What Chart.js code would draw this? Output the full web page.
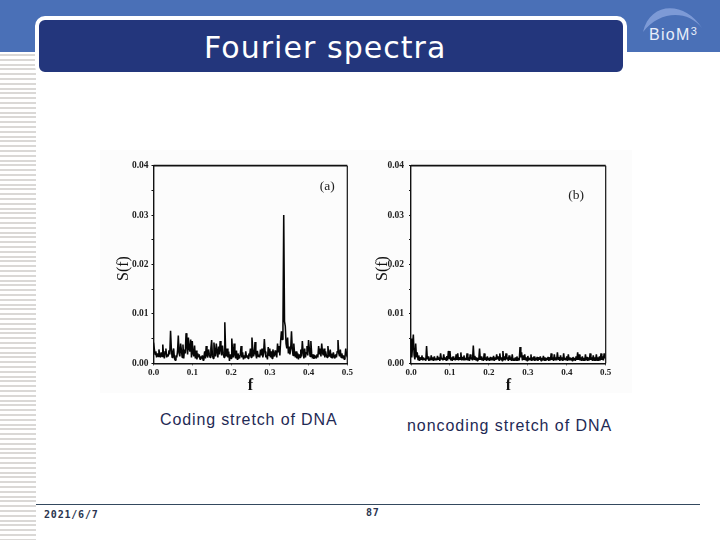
<!DOCTYPE html>
<html>
<head>
<meta charset="utf-8">
<script src="https://cdn.jsdelivr.net/npm/chart.js@4"></script>
<style>
  html, body { margin: 0; padding: 0; background: #fff; }
  #page { position: relative; width: 720px; height: 540px; overflow: hidden; font-family: "Liberation Sans", sans-serif; }
  #band { position: absolute; left: 0; top: 0; width: 720px; height: 52px; background: #4a70b7; }
  #stripes { position: absolute; left: 0; top: 54px; width: 36px; height: 486px;
    background: repeating-linear-gradient(to bottom, #dad8d6 0, #dad8d6 2px, #ffffff 2px, #ffffff 4.8px); }
  #titlebox { position: absolute; left: 35px; top: 16px; width: 584px; height: 52px; background: #23367c;
    border: 4px solid #fff; border-radius: 10px; }
  #title { position: absolute; left: 204px; top: 30px; color: #fff; font-family: "DejaVu Sans", sans-serif; font-size: 30px; line-height: 36px; letter-spacing: 1.05px; white-space: nowrap; }
  #logo { position: absolute; left: 640px; top: 4px; }
  #scan { position: absolute; left: 100px; top: 150px; width: 532px; height: 243px; background: #fcfcfc; }
  .panel { position: absolute; top: 150px; width: 265px; height: 245px; filter: blur(0.4px); }
  .panel canvas { display: block; }
  .cap { position: absolute; font-size: 16px; line-height: 20px; color: #1f2a55; white-space: nowrap; letter-spacing: 0.87px; }
  #rule { position: absolute; left: 36px; top: 504px; width: 664px; height: 1px; background: #34495e; }
  .foot { position: absolute; font-family: "DejaVu Sans Mono", monospace; font-weight: bold; font-size: 10px; letter-spacing: 0.8px; color: #2a3550; line-height: 12px; }
</style>
</head>
<body>
<div id="page">
  <div id="band"></div>
  <div id="stripes"></div>
  <div id="titlebox"></div>
  <div id="title">Fourier spectra</div>
  <svg id="logo" width="76" height="44">
    <path d="M 3 28 C 10 -3, 45 -3, 62 24 C 48 6, 20 6, 3 28 Z" fill="#7d9ad6"/>
    <text x="9" y="36" font-family="Liberation Sans" font-size="16" letter-spacing="1.3" fill="#e8eefa">BioM<tspan font-size="11" dy="-5">3</tspan></text>
  </svg>
  <div id="scan"></div>
  <div class="panel" style="left:100px"><canvas id="chartA" width="265" height="245"></canvas></div>
  <div class="panel" style="left:365px"><canvas id="chartB" width="265" height="245"></canvas></div>
  <div class="cap" style="left:160px; top:410px">Coding stretch of DNA</div>
  <div class="cap" style="left:407px; top:416px; letter-spacing:0.95px">noncoding stretch of DNA</div>
  <div id="rule"></div>
  <div class="foot" style="left:44px; top:509px">2021/6/7</div>
  <div class="foot" style="left:366px; top:507px">87</div>
</div>
<script>
const freqs = [
  0.000,0.002,0.004,0.006,0.008,0.010,0.012,0.014,0.016,0.018,0.020,0.022,0.024,0.026,0.028,0.030,
  0.032,0.034,0.036,0.038,0.040,0.042,0.044,0.046,0.048,0.050,0.052,0.054,0.056,0.058,0.060,0.062,
  0.064,0.066,0.068,0.070,0.072,0.074,0.076,0.078,0.080,0.082,0.084,0.086,0.088,0.090,0.092,0.094,
  0.096,0.098,0.100,0.102,0.104,0.106,0.108,0.110,0.112,0.114,0.116,0.118,0.120,0.122,0.124,0.126,
  0.128,0.130,0.132,0.134,0.136,0.138,0.140,0.142,0.144,0.146,0.148,0.150,0.152,0.154,0.156,0.158,
  0.160,0.162,0.164,0.166,0.168,0.170,0.172,0.174,0.176,0.178,0.180,0.182,0.184,0.186,0.188,0.190,
  0.192,0.194,0.196,0.198,0.200,0.202,0.204,0.206,0.208,0.210,0.212,0.214,0.216,0.218,0.220,0.222,
  0.224,0.226,0.228,0.230,0.232,0.234,0.236,0.238,0.240,0.242,0.244,0.246,0.248,0.250,0.252,0.254,
  0.256,0.258,0.260,0.262,0.264,0.266,0.268,0.270,0.272,0.274,0.276,0.278,0.280,0.282,0.284,0.286,
  0.288,0.290,0.292,0.294,0.296,0.298,0.300,0.302,0.304,0.306,0.308,0.310,0.312,0.314,0.316,0.318,
  0.320,0.322,0.324,0.326,0.328,0.330,0.332,0.334,0.336,0.338,0.340,0.342,0.344,0.346,0.348,0.350,
  0.352,0.354,0.356,0.358,0.360,0.362,0.364,0.366,0.368,0.370,0.372,0.374,0.376,0.378,0.380,0.382,
  0.384,0.386,0.388,0.390,0.392,0.394,0.396,0.398,0.400,0.402,0.404,0.406,0.408,0.410,0.412,0.414,
  0.416,0.418,0.420,0.422,0.424,0.426,0.428,0.430,0.432,0.434,0.436,0.438,0.440,0.442,0.444,0.446,
  0.448,0.450,0.452,0.454,0.456,0.458,0.460,0.462,0.464,0.466,0.468,0.470,0.472,0.474,0.476,0.478,
  0.480,0.482,0.484,0.486,0.488,0.490,0.492,0.494,0.496,0.498,0.500
];

// panel (a), coding stretch
const codingS = [
  0.0042,0.0030,0.0018,0.0024,0.0012,0.0020,0.0014,0.0028,0.0016,0.0012,0.0022,0.0014,0.0038,0.0016,0.0010,0.0024,
  0.0030,0.0012,0.0018,0.0014,0.0026,0.0018,0.0066,0.0030,0.0012,0.0022,0.0030,0.0010,0.0006,0.0016,0.0012,0.0024,
  0.0056,0.0020,0.0014,0.0040,0.0026,0.0012,0.0038,0.0010,0.0028,0.0020,0.0061,0.0035,0.0018,0.0052,0.0030,0.0024,
  0.0048,0.0012,0.0045,0.0020,0.0014,0.0036,0.0010,0.0026,0.0008,0.0020,0.0012,0.0018,0.0008,0.0014,0.0010,0.0016,
  0.0006,0.0012,0.0024,0.0010,0.0035,0.0016,0.0012,0.0028,0.0018,0.0012,0.0030,0.0047,0.0016,0.0010,0.0042,0.0022,
  0.0014,0.0040,0.0024,0.0012,0.0034,0.0018,0.0045,0.0028,0.0016,0.0036,0.0020,0.0012,0.0083,0.0028,0.0014,0.0030,
  0.0012,0.0024,0.0005,0.0018,0.0010,0.0050,0.0024,0.0012,0.0040,0.0018,0.0010,0.0026,0.0008,0.0020,0.0014,0.0010,
  0.0018,0.0035,0.0012,0.0022,0.0008,0.0016,0.0010,0.0024,0.0012,0.0016,0.0010,0.0020,0.0014,0.0030,0.0012,0.0052,
  0.0030,0.0014,0.0020,0.0043,0.0018,0.0010,0.0025,0.0014,0.0018,0.0012,0.0028,0.0016,0.0030,0.0012,0.0020,0.0049,
  0.0024,0.0012,0.0016,0.0008,0.0033,0.0016,0.0030,0.0012,0.0024,0.0010,0.0028,0.0018,0.0014,0.0026,0.0020,0.0012,
  0.0040,0.0022,0.0035,0.0016,0.0045,0.0065,0.0048,0.0075,0.0300,0.0085,0.0075,0.0040,0.0030,0.0052,0.0020,0.0034,
  0.0018,0.0030,0.0065,0.0030,0.0016,0.0040,0.0020,0.0012,0.0024,0.0010,0.0020,0.0008,0.0018,0.0012,0.0028,0.0014,
  0.0045,0.0024,0.0010,0.0030,0.0012,0.0022,0.0035,0.0016,0.0047,0.0030,0.0014,0.0045,0.0020,0.0010,0.0018,0.0009,
  0.0016,0.0012,0.0010,0.0018,0.0012,0.0035,0.0018,0.0030,0.0014,0.0040,0.0022,0.0016,0.0030,0.0012,0.0024,0.0016,
  0.0012,0.0035,0.0018,0.0014,0.0028,0.0012,0.0020,0.0010,0.0022,0.0014,0.0010,0.0018,0.0012,0.0024,0.0047,0.0020,
  0.0014,0.0028,0.0012,0.0020,0.0010,0.0016,0.0008,0.0012,0.0030,0.0018,0.0012
];

// panel (b), noncoding stretch
const noncodingS = [
  0.0050,0.0012,0.0035,0.0058,0.0016,0.0008,0.0040,0.0012,0.0022,0.0007,0.0016,0.0005,0.0012,0.0008,0.0016,0.0006,
  0.0012,0.0007,0.0010,0.0005,0.0035,0.0008,0.0014,0.0005,0.0010,0.0006,0.0016,0.0007,0.0012,0.0005,0.0014,0.0007,
  0.0010,0.0006,0.0015,0.0007,0.0012,0.0005,0.0020,0.0008,0.0011,0.0006,0.0018,0.0007,0.0012,0.0006,0.0015,0.0006,
  0.0025,0.0010,0.0025,0.0006,0.0012,0.0005,0.0014,0.0007,0.0010,0.0006,0.0018,0.0007,0.0020,0.0006,0.0012,0.0008,
  0.0022,0.0006,0.0013,0.0007,0.0016,0.0006,0.0011,0.0007,0.0020,0.0006,0.0012,0.0005,0.0018,0.0008,0.0012,0.0006,
  0.0036,0.0008,0.0015,0.0006,0.0012,0.0005,0.0011,0.0007,0.0030,0.0007,0.0014,0.0006,0.0011,0.0005,0.0020,0.0007,
  0.0012,0.0005,0.0014,0.0007,0.0011,0.0005,0.0013,0.0007,0.0012,0.0006,0.0015,0.0005,0.0012,0.0007,0.0018,0.0008,
  0.0014,0.0006,0.0020,0.0008,0.0012,0.0005,0.0025,0.0007,0.0014,0.0006,0.0020,0.0008,0.0012,0.0005,0.0016,0.0007,
  0.0012,0.0005,0.0018,0.0006,0.0010,0.0005,0.0012,0.0006,0.0014,0.0005,0.0011,0.0006,0.0033,0.0012,0.0022,0.0006,
  0.0016,0.0007,0.0018,0.0006,0.0012,0.0005,0.0015,0.0006,0.0011,0.0007,0.0018,0.0005,0.0012,0.0006,0.0014,0.0005,
  0.0011,0.0006,0.0013,0.0005,0.0012,0.0007,0.0014,0.0005,0.0011,0.0006,0.0015,0.0006,0.0012,0.0005,0.0011,0.0007,
  0.0013,0.0005,0.0012,0.0006,0.0020,0.0007,0.0012,0.0005,0.0018,0.0007,0.0012,0.0006,0.0022,0.0008,0.0013,0.0005,
  0.0016,0.0006,0.0012,0.0005,0.0020,0.0007,0.0011,0.0006,0.0014,0.0005,0.0018,0.0007,0.0012,0.0006,0.0011,0.0005,
  0.0013,0.0006,0.0011,0.0005,0.0014,0.0007,0.0022,0.0007,0.0018,0.0006,0.0012,0.0005,0.0014,0.0006,0.0011,0.0005,
  0.0018,0.0006,0.0013,0.0005,0.0011,0.0006,0.0020,0.0007,0.0012,0.0005,0.0016,0.0006,0.0012,0.0005,0.0018,0.0006,
  0.0012,0.0005,0.0014,0.0006,0.0020,0.0007,0.0014,0.0006,0.0020,0.0010,0.0012
];

const yTicks = [0, 0.01, 0.02, 0.03, 0.04];
const xTicks = [0, 0.1, 0.2, 0.3, 0.4, 0.5];

const serif = '"Liberation Serif", serif';

// frame on the top and right, and the (a)/(b) tag
const framePlugin = {
  id: 'frame',
  afterDraw(chart, args, opts) {
    const { ctx, chartArea: a, scales } = chart;
    ctx.save();
    ctx.strokeStyle = '#111';
    ctx.lineWidth = 1.8;
    ctx.beginPath();
    ctx.moveTo(a.left, a.top);
    ctx.lineTo(a.right, a.top);
    ctx.stroke();
    ctx.lineWidth = 1.2;
    ctx.beginPath();
    ctx.moveTo(a.right, a.top);
    ctx.lineTo(a.right, a.bottom);
    ctx.stroke();
    ctx.fillStyle = '#222';
    ctx.font = '13.5px ' + serif;
    ctx.textAlign = 'center';
    ctx.textBaseline = 'middle';
    ctx.fillText(opts.tag, scales.x.getPixelForValue(opts.tagF), scales.y.getPixelForValue(opts.tagS));
    ctx.restore();
  }
};

function spectrum(id, values, cfg) {
  return new Chart(document.getElementById(id), {
    type: 'line',
    data: {
      datasets: [{
        data: freqs.map((f, i) => ({ x: f, y: values[i] })),
        borderColor: '#050505',
        borderWidth: 1.55,
        borderJoinStyle: 'bevel',
        pointRadius: 0,
        tension: 0
      }]
    },
    options: {
      responsive: false,
      animation: false,
      devicePixelRatio: 1,
      layout: { padding: { top: 15.7, right: cfg.right, left: 0, bottom: 0 } },
      plugins: {
        legend: { display: false },
        tooltip: { enabled: false },
        frame: { tag: cfg.tag, tagF: cfg.tagF, tagS: cfg.tagS }
      },
      scales: {
        x: {
          type: 'linear', min: 0, max: 0.5,
          afterFit: s => { s.height = 31.7; },
          afterBuildTicks: s => { s.ticks = xTicks.map(v => ({ value: v })); },
          border: { color: '#111', width: 1.4 },
          grid: { drawOnChartArea: false, tickLength: 2, color: '#111' },
          ticks: {
            autoSkip: false, maxRotation: 0, padding: 2, color: '#222',
            font: { family: serif, size: 9, weight: 'bold' },
            callback: v => v.toFixed(1)
          },
          title: { display: true, text: 'f', color: '#111', padding: { top: -1, bottom: 0 },
            font: { family: serif, size: 16, weight: 'bold' } }
        },
        y: {
          min: 0, max: 0.04,
          afterFit: s => { s.width = cfg.axis; },
          ticks: {
            stepSize: 0.005, autoSkip: false, padding: cfg.tickPad, color: '#222',
            font: { family: serif, size: 9.5, weight: 'bold' },
            callback: v => yTicks.some(t => Math.abs(t - v) < 1e-6) ? v.toFixed(2) : ''
          },
          border: { color: '#111', width: 1.4 },
          grid: { drawOnChartArea: false, tickLength: 2, color: '#111' },
          title: { display: true, text: 'S(f)  ', color: '#111', padding: { top: cfg.titleTop, bottom: 0 },
            font: { family: serif, size: 16 } }
        }
      }
    },
    plugins: [framePlugin]
  });
}

spectrum('chartA', codingS, { axis: 53.5, right: 17.7, titleTop: 14, tickPad: 3, tag: '(a)', tagF: 0.448, tagS: 0.0358 });
spectrum('chartB', noncodingS, { axis: 46, right: 24.3, titleTop: 8, tickPad: 5, tag: '(b)', tagF: 0.424, tagS: 0.0340 });
</script>
</body>
</html>
